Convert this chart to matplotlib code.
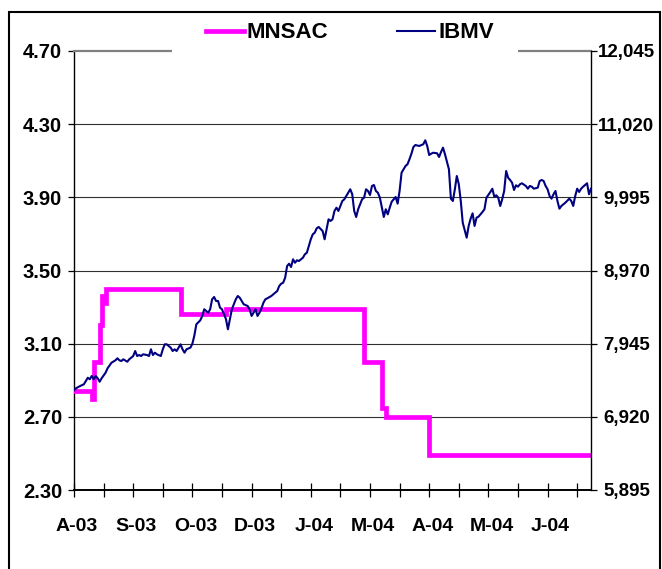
import matplotlib
matplotlib.use("Agg")
import matplotlib.pyplot as plt
import matplotlib.patches as patches
from matplotlib.transforms import ScaledTranslation

# trading-day index since 1 Aug 2003
ibmv_days = [0, 1, 3, 5, 6, 7, 8, 9, 10, 11, 12, 13, 14, 16, 17, 19, 21, 22, 23, 24,
             25, 27, 28, 30, 31, 32, 33, 34, 35, 37, 38, 39, 40, 41, 42, 44, 45, 46, 47, 49,
             50, 51, 52, 54, 55, 56, 57, 59, 60, 61, 62, 64, 65, 66, 68, 69, 70, 71, 72, 73,
             74, 75, 76, 77, 78, 79, 80, 82, 83, 84, 85, 86, 88, 89, 90, 91, 92, 93, 94, 95,
             96, 97, 98, 100, 101, 103, 104, 105, 106, 107, 108, 109, 110, 111, 112, 113, 114, 116, 117, 118,
             119, 120, 121, 122, 123, 124, 126, 127, 128, 129, 130, 131, 132, 133, 134, 135, 136, 137, 138, 139,
             140, 141, 142, 143, 144, 145, 146, 147, 148, 149, 150, 151, 152, 153, 154, 155, 157, 158, 159, 160,
             161, 162, 163, 164, 165, 166, 167, 168, 169, 170, 171, 172, 173, 175, 176, 177, 178, 179, 180, 181,
             182, 184, 185, 186, 187, 188, 190, 191, 192, 193, 194, 195, 196, 197, 199, 200, 201, 202, 203, 204,
             205, 207, 208, 209, 211, 212, 213, 214, 215, 216, 217, 218, 219, 220, 221, 222, 223, 224, 225, 226,
             227, 229, 230, 231, 232, 233, 235, 236, 237, 238, 239, 240, 241, 242, 243, 244, 245, 246, 247, 248,
             249, 251, 252, 253, 254, 255, 256, 257, 258, 260, 261, 262]
ibmv = [7290, 7320, 7350, 7376, 7422, 7468, 7446, 7492, 7446, 7492, 7460, 7412, 7460, 7538, 7600, 7678, 7712, 7740, 7712, 7702,
        7726, 7692, 7726, 7772, 7842, 7772, 7786, 7772, 7796, 7786, 7772, 7866, 7786, 7819, 7796, 7772, 7866, 7936, 7936, 7889,
        7842, 7866, 7842, 7936, 7866, 7819, 7866, 7889, 7945, 8060, 8216, 8272, 8333, 8427, 8379, 8427, 8567, 8599, 8543, 8543,
        8449, 8427, 8357, 8290, 8146, 8286, 8427, 8567, 8613, 8589, 8543, 8497, 8473, 8427, 8333, 8379, 8427, 8333, 8379, 8441,
        8519, 8567, 8581, 8613, 8637, 8683, 8753, 8785, 8799, 8869, 9033, 9065, 9019, 9127, 9079, 9113, 9103, 9149, 9197, 9219,
        9313, 9407, 9477, 9500, 9561, 9580, 9523, 9407, 9547, 9687, 9664, 9687, 9804, 9850, 9804, 9874, 9944, 9968, 10014, 10060,
        10108, 10038, 9804, 9720, 9828, 9898, 9968, 9990, 10108, 10084, 10028, 10154, 10168, 10084, 10060, 9990, 9720, 9828, 9757, 9850,
        9934, 9968, 10000, 9906, 10084, 10340, 10388, 10434, 10458, 10528, 10606, 10700, 10728, 10714, 10728, 10738, 10794, 10714, 10588, 10606,
        10620, 10612, 10560, 10630, 10691, 10598, 10388, 9976, 9944, 10108, 10294, 10178, 9944, 9640, 9430, 9594, 9696, 9771, 9594, 9710,
        9724, 9790, 9827, 9990, 10070, 10116, 10004, 10024, 9990, 9874, 9968, 10084, 10364, 10270, 10238, 10200, 10098, 10164, 10144, 10178,
        10192, 10154, 10116, 10154, 10144, 10116, 10130, 10224, 10238, 10224, 10154, 10108, 10014, 9976, 10038, 10084, 9944, 9836, 9874, 9898,
        9920, 9976, 9944, 9874, 10014, 10116, 10070, 10116, 10144, 10192, 10038, 10116]

# MNSAC: day of each change and the level from that day on
mnsac_days = [0, 9, 10, 13, 14, 15, 16, 54, 77, 147, 156, 158, 180, 262]
mnsac = [2.84, 2.80, 3.00, 3.20, 3.36, 3.32, 3.40, 3.26, 3.29, 3.00, 2.75, 2.70, 2.49, 2.49]

left_ticks = [2.30, 2.70, 3.10, 3.50, 3.90, 4.30, 4.70]
right_ticks = [5895, 6920, 7945, 8970, 9995, 11020, 12045]
label_days = [0, 30, 60, 90, 120, 150, 180, 210, 240]
month_labels = ["A-03", "S-03", "O-03", "D-03", "J-04", "M-04", "A-04", "M-04", "J-04"]
minor_days = [15, 45, 75, 105, 135, 165, 195, 225, 255]

plt.rcParams['font.family'] = ['Liberation Sans', 'DejaVu Sans']
plt.rcParams['font.weight'] = 'bold'

fig = plt.figure(figsize=(6.62, 5.69), dpi=100)
ax = fig.add_axes([74 / 662, 1 - 490 / 569, 517 / 662, 439 / 569])
ax2 = ax.twinx()

for y in left_ticks[1:-1]:
    ax.axhline(y, color='#303030', lw=0.8, zorder=1)

ax.plot(mnsac_days, mnsac, color='#FF00FF', lw=3.4, drawstyle='steps-post',
        solid_joinstyle='miter', label='MNSAC', zorder=3)
ax2.plot(ibmv_days, ibmv, color='#000080', lw=1.5, label='IBMV', zorder=3)

ax.set_xlim(0, 262)
ax.set_ylim(2.30, 4.70)
ax2.set_ylim(5895, 12045)

ax.set_yticks(left_ticks)
ax.set_yticklabels([f"{v:.2f}" for v in left_ticks])
ax2.set_yticks(right_ticks)
ax2.set_yticklabels([f"{v:,}" for v in right_ticks])
ax.set_xticks(label_days)
ax.set_xticklabels(month_labels)
ax.set_xticks(minor_days, minor=True)

ax.tick_params(axis='y', direction='out', length=4.5, width=0.9, pad=4, labelsize=14.5)
ax2.tick_params(axis='y', direction='out', length=4.5, width=0.9, pad=21, labelsize=13.5)
for t in ax2.get_yticklabels():
    t.set_horizontalalignment('center')
ax.tick_params(axis='x', which='both', direction='inout', length=10, width=0.9, labelsize=14, pad=15)
off = ScaledTranslation(3 / 100, 0, fig.dpi_scale_trans)
for t in ax.get_xticklabels():
    t.set_transform(t.get_transform() + off)

for s in ['left', 'right', 'top', 'bottom']:
    ax2.spines[s].set_visible(False)
ax2.spines['right'].set_visible(True)
ax2.spines['right'].set_linewidth(1.0)
ax.spines['right'].set_visible(False)
ax.spines['left'].set_linewidth(1.0)
ax.spines['bottom'].set_linewidth(1.4)
ax.spines['top'].set_color('#808080')
ax.spines['top'].set_linewidth(1.6)

# white box behind the legend hides the top line
fig.patches.append(patches.Rectangle((172 / 662, 1 - 62 / 569), 346 / 662, 24 / 569,
                                     transform=fig.transFigure, fc='white', ec='none', zorder=5))
h1, l1 = ax.get_legend_handles_labels()
h2, l2 = ax2.get_legend_handles_labels()
fig.legend(h1 + h2, l1 + l2, loc='center', bbox_to_anchor=(350 / 662, 1 - 33 / 569),
           ncol=2, frameon=False, fontsize=16, handlelength=1.7, handletextpad=0.15,
           columnspacing=3.1, borderpad=0)

fig.patches.append(patches.Rectangle((9 / 662, -0.02), 651 / 662, 1.02 - 12 / 569,
                                     transform=fig.transFigure, fill=False, ec='black', lw=1.5, zorder=6))

fig.savefig("out.png", dpi=100)
